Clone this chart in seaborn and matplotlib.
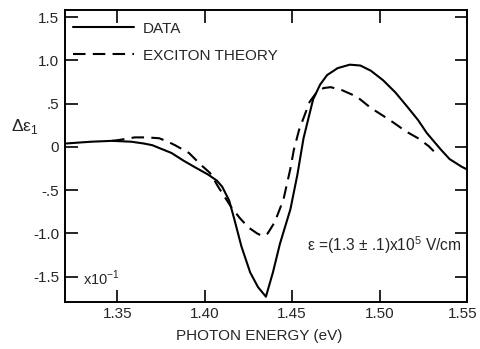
import numpy as np
import pandas as pd
import matplotlib
matplotlib.use("Agg")
import matplotlib.pyplot as plt
import matplotlib.transforms as mtransforms
import seaborn as sns

# data (photon energy in eV, delta eps1 in units of 1e-1)
data_energy = [1.321, 1.335, 1.347, 1.358, 1.365, 1.370, 1.381, 1.388, 1.394,
               1.402, 1.407, 1.410, 1.414, 1.417, 1.421, 1.426, 1.4305, 1.435,
               1.439, 1.443, 1.449, 1.453, 1.4565, 1.462, 1.466, 1.470, 1.476,
               1.483, 1.489, 1.495, 1.502, 1.509, 1.516, 1.522, 1.527, 1.535,
               1.540, 1.547, 1.550]
data_eps = [0.04, 0.06, 0.07, 0.06, 0.04, 0.02, -0.07, -0.16, -0.23,
            -0.32, -0.39, -0.46, -0.62, -0.84, -1.15, -1.45, -1.62, -1.73,
            -1.45, -1.12, -0.72, -0.32, 0.10, 0.55, 0.72, 0.83, 0.91,
            0.95, 0.94, 0.88, 0.77, 0.63, 0.46, 0.31, 0.16, -0.03,
            -0.14, -0.23, -0.26]

theory_energy = [1.347, 1.351, 1.360, 1.367, 1.374, 1.379, 1.383, 1.391, 1.398,
                 1.403, 1.408, 1.415, 1.420, 1.425, 1.430, 1.433, 1.436, 1.440,
                 1.445, 1.449, 1.451, 1.454, 1.457, 1.460, 1.464, 1.468, 1.472,
                 1.478, 1.487, 1.495, 1.502, 1.508, 1.515, 1.522, 1.528, 1.532]
theory_eps = [0.07, 0.08, 0.11, 0.11, 0.10, 0.06, 0.02, -0.07, -0.21,
              -0.30, -0.47, -0.69, -0.82, -0.93, -1.00, -1.03, -1.00, -0.87,
              -0.61, -0.25, -0.03, 0.20, 0.36, 0.52, 0.63, 0.68, 0.69,
              0.66, 0.58, 0.45, 0.36, 0.28, 0.18, 0.10, 0.01, -0.07]

series_names = ["DATA", "EXCITON THEORY"]

x_ticks = [1.35, 1.40, 1.45, 1.50, 1.55]
x_tick_labels = ["1.35", "1.40", "1.45", "1.50", "1.55"]
y_ticks = [1.5, 1.0, 0.5, 0.0, -0.5, -1.0, -1.5]
y_tick_labels = ["1.5", "1.0", ".5", "0", "-.5", "-1.0", "-1.5"]

df = pd.concat([
    pd.DataFrame({"energy": data_energy, "eps": data_eps, "series": series_names[0]}),
    pd.DataFrame({"energy": theory_energy, "eps": theory_eps, "series": series_names[1]}),
])

sns.set_style("ticks")
plt.rcParams["font.family"] = ["Liberation Sans", "DejaVu Sans"]

fig = plt.figure(figsize=(4.8, 3.49), dpi=100)
ax = fig.add_axes([0.135, 0.135, 0.838, 0.836])

sns.lineplot(data=df, x="energy", y="eps", style="series", color="black",
             dashes={"DATA": "", "EXCITON THEORY": (6, 3.5)},
             estimator=None, linewidth=1.5, ax=ax)

ax.set_xlim(1.32, 1.55)
ax.set_ylim(-1.79, 1.58)
ax.set_xticks(x_ticks)
ax.set_xticklabels(x_tick_labels)
ax.set_yticks(y_ticks)
ax.set_yticklabels(y_tick_labels)
ax.tick_params(direction="in", length=9, width=1.2, top=True, right=True,
               labelsize=11, pad=4, color="black")
for s in ax.spines.values():
    s.set_linewidth(1.4)
    s.set_color("black")

# last x label sits a little left of its tick, as in the original
last = ax.get_xticklabels()[-1]
last.set_transform(last.get_transform() +
                   mtransforms.ScaledTranslation(-4 / 100, 0, fig.dpi_scale_trans))

ax.set_xlabel("PHOTON ENERGY (eV)", fontsize=11)
ax.xaxis.set_label_coords(0.483, -0.092)
ax.set_ylabel("Δε$_\\mathregular{1}$", rotation=0, fontsize=12.5)
ax.yaxis.set_label_coords(-0.1, 0.57)

ax.text(1.3305, -1.52, "x10$^{\\mathregular{-1}}$", fontsize=10.5, ha="left", va="center")
ax.text(1.4585, -1.13, "ε =(1.3 ± .1)x10$^{\\mathregular{5}}$ V/cm", fontsize=11.2,
        ha="left", va="center")

leg = ax.legend(loc="upper left", bbox_to_anchor=(0.02, 0.96), frameon=False,
                handlelength=4.0, handletextpad=0.6, labelspacing=0.85,
                fontsize=11, borderaxespad=0, borderpad=0)
leg.set_title(None)

fig.savefig("out.png", dpi=100)
